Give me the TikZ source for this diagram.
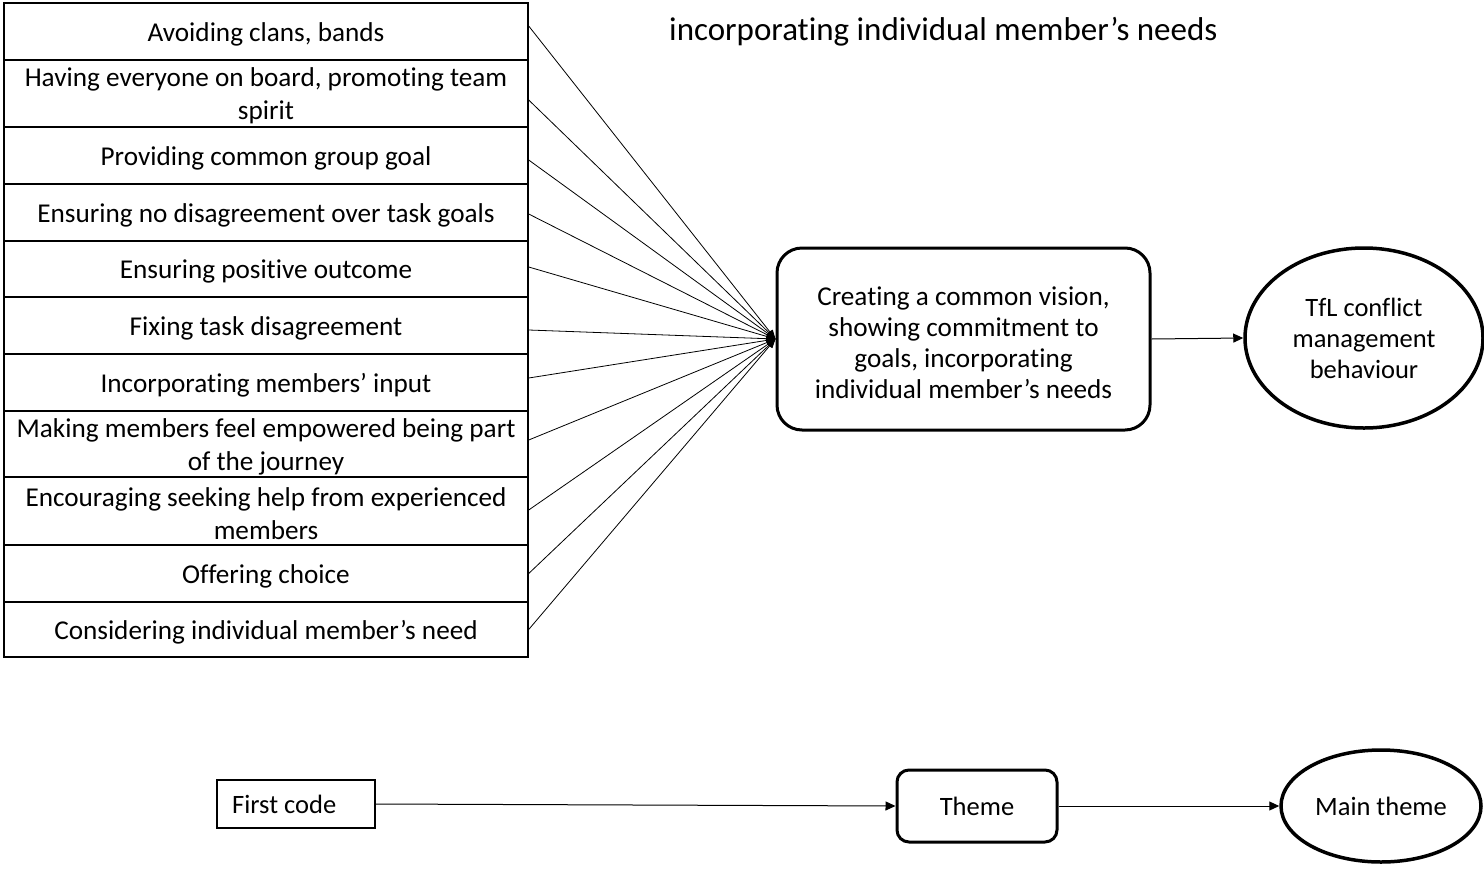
\documentclass[tikz,border=0pt]{standalone}
\usepackage{fontspec}
\setmainfont{Carlito}[Ligatures=NoCommon]
\usetikzlibrary{arrows.meta,shapes.geometric}
\begin{document}
\begin{tikzpicture}[x=1pt,y=-1pt,
  txt/.style={font=\fontsize{26.5}{33}\selectfont},
  codebox/.style={draw=black,line width=1.4pt,rectangle,inner sep=0pt,
    minimum width=524pt},
  codetext/.style={inner sep=0pt,align=center,font=\fontsize{27.2}{33}\selectfont},
  themebox/.style={draw=black,line width=3pt,rectangle,rounded corners=#1,
    inner sep=0pt,align=center,txt},
  mainoval/.style={draw=black,line width=3.5pt,ellipse,inner sep=0pt,
    align=center,txt},
  fan/.style={draw=black,line width=0.8pt,-{Triangle[length=9pt,width=7pt]}},
  link/.style={draw=black,line width=1pt,-{Triangle[length=10pt,width=9pt]}}]
\useasboundingbox (0,0) rectangle (1484,868);

% one code cell: name, centre y, height, text
\newcommand\codecell[4]{%
  \node[codebox,minimum height=#3] (#1) at (266,#2) {};
  \node[codetext] (#1t) at ([yshift=-2.5pt]#1.center) {#4};}

% caption line at the top
\node[anchor=base west,inner sep=0pt,font=\fontsize{33}{38}\selectfont]
  (cap) at (669,40) {incorporating individual member’s needs};

% first codes
\codecell{c1}{31.5}{57pt}{Avoiding clans, bands}
\codecell{c2}{93.5}{67pt}{Having everyone on board, promoting team\\spirit}
\codecell{c3}{155.5}{57pt}{Providing common group goal}
\codecell{c4}{212.5}{57pt}{Ensuring no disagreement over task goals}
\codecell{c5}{269}{56pt}{Ensuring positive outcome}
\codecell{c6}{325.5}{57pt}{Fixing task disagreement}
\codecell{c7}{382.5}{57pt}{Incorporating members’ input}
\codecell{c8}{444}{66pt}{Making members feel empowered being part\\of the journey}
\codecell{c9}{511}{68pt}{Encouraging seeking help from experienced\\members}
\codecell{c10}{573.5}{57pt}{Offering choice}
\codecell{c11}{629.5}{55pt}{Considering individual member’s need}

% theme and main theme
\node[themebox=25pt,minimum width=373pt,minimum height=182pt] (th) at (963.5,339) {};
\node[codetext,font=\fontsize{27.2}{31}\selectfont] (tht) at ([yshift=-4pt]th.center)
  {Creating a common vision,\\showing commitment to\\goals, incorporating\\individual member’s needs};
\node[mainoval,minimum width=238pt,minimum height=180pt,
  font=\fontsize{26.5}{31}\selectfont] (mt) at (1364,338)
  {TfL conflict\\management\\behaviour};

% each code feeds the theme
\foreach \i/\dy in {1/5.5,2/-6.5,3/-4.5,4/-1.5,5/2,6/-4.5,7/4.5,8/4,9/1,10/0,11/0}
  \draw[fan] ([yshift=\dy pt]c\i.east) -- (th.west);
\draw[link] (th.east) -- (mt.west);

% legend
\node[draw=black,line width=1.4pt,rectangle,inner sep=0pt,minimum width=158pt,
  minimum height=48pt,txt] (lcode) at (296,804) {};
\node[anchor=west,inner sep=0pt,txt] (lcodetxt) at (232,804) {First code};
\node[themebox=12pt,minimum width=160pt,minimum height=72pt] (ltheme) at (977,806) {Theme};
\node[mainoval,minimum width=200pt,minimum height=112pt] (lmain) at (1381,806) {Main theme};
\draw[link] (lcode.east) -- (ltheme.west);
\draw[link] (ltheme.east) -- (lmain.west);
\end{tikzpicture}
\end{document}
